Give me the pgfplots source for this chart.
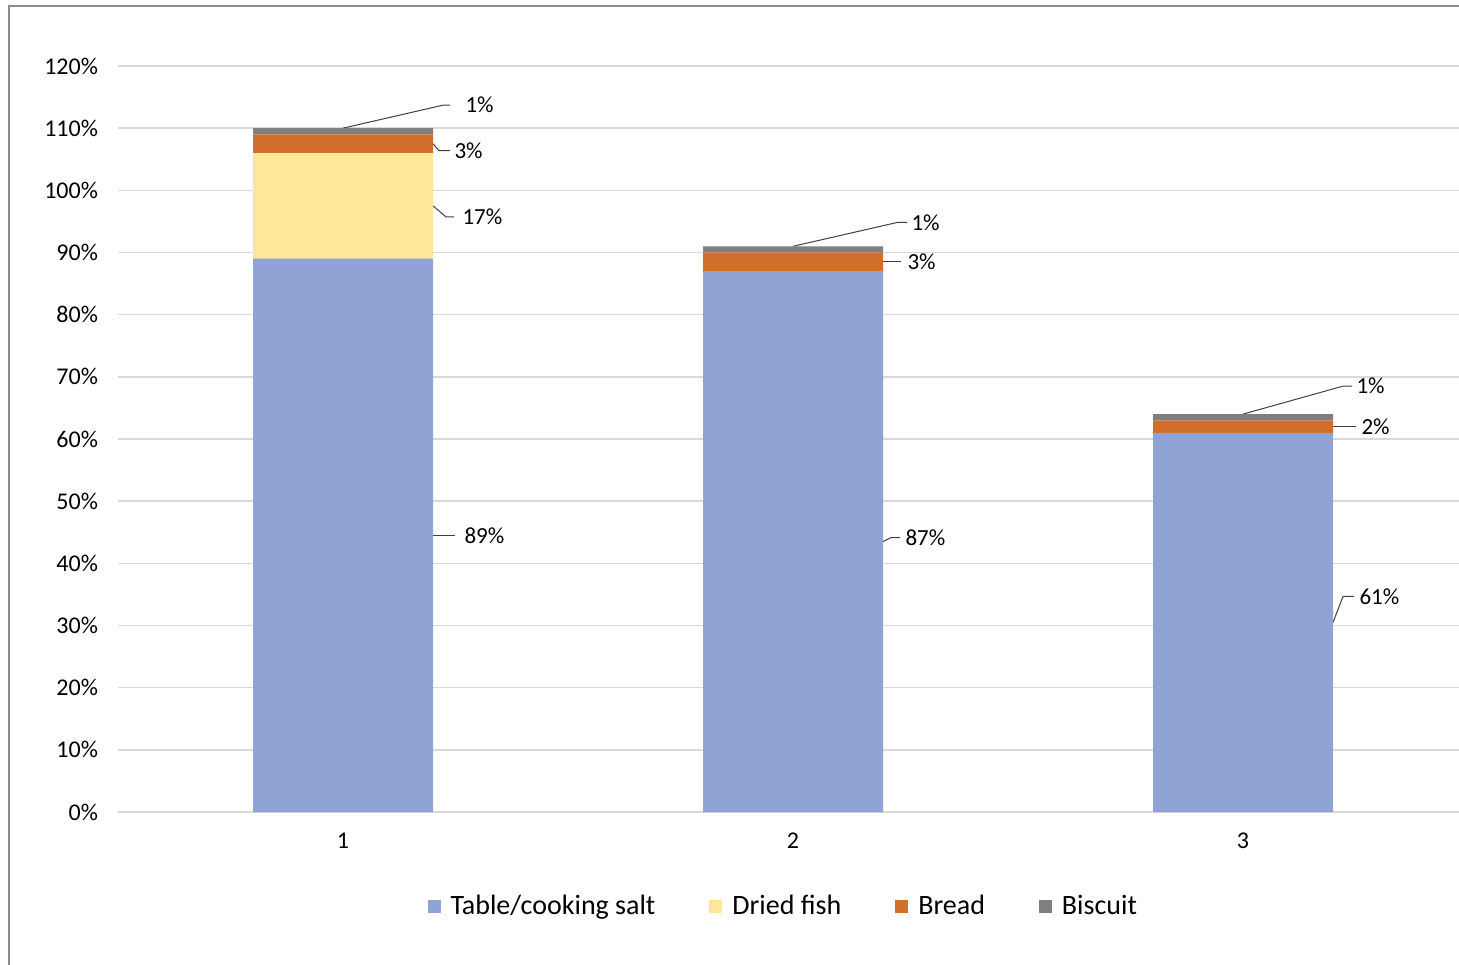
\documentclass[border=0pt]{standalone}
\usepackage{pgfplots}
\pgfplotsset{compat=1.18}
\usepackage{fontspec}
\setmainfont{Carlito}

\definecolor{salt}{HTML}{8FA3D4}
\definecolor{fish}{HTML}{FFE699}
\definecolor{bread}{HTML}{D36F2C}
\definecolor{biscuit}{HTML}{7F7F7F}
\definecolor{gridgray}{HTML}{D9D9D9}
\definecolor{framegray}{HTML}{8C8C8C}
\definecolor{leader}{HTML}{404040}

% share of respondents per group, one row per group
\pgfplotstableread{
x salt fish bread biscuit
1 89   17   3     1
2 87   0    3     1
3 61   0    2     1
}\foodsalt

% leader line with an elbow: start, elbow offset, horizontal run, gap, text
\newcommand{\callout}[6]{%
  \draw[leader, line width=0.5pt] (axis cs:#1) -- ++(#2) -- ++(#3,0pt)
    node[right, inner sep=0pt, xshift=#4, font=\fontsize{11.5}{13}\selectfont, text=black] {#5#6};}

\begin{document}
\begin{tikzpicture}
\useasboundingbox (0,0) rectangle (729.5pt,482pt);
\fill[white] (0,0) rectangle (729.5pt,482pt);
\draw[framegray, line width=0.8pt] (4.5pt,-2pt) -- (4.5pt,479pt) -- (740pt,479pt);

\begin{axis}[
  at={(59pt,76pt)}, anchor=south west,
  scale only axis, width=675pt, height=373pt,
  xmin=0.5, xmax=3.5, ymin=0, ymax=120,
  ybar stacked, bar width=90pt,
  axis line style={draw=none},
  major tick length=0pt,
  xtick={1,2,3}, ytick={0,10,...,120},
  ymajorgrids, grid style={gridgray, line width=0.8pt},
  /pgf/number format/assume math mode=true,
  yticklabel={\pgfmathprintnumber{\tick}\%},
  yticklabel style={font=\fontsize{12}{14}\selectfont, xshift=-6.5pt},
  xticklabel style={font=\fontsize{12}{14}\selectfont, yshift=-7pt},
  legend columns=4,
  legend style={draw=none, fill=none, at={(0.4935,-0.1265)}, anchor=center,
    font=\fontsize{14}{16}\selectfont,
    /tikz/every odd column/.style={column sep=3pt},
    /tikz/every even column/.style={column sep=25pt}},
  legend image code/.code={\fill[#1] (0pt,-3.25pt) rectangle (6.5pt,3.25pt);},
  clip=false,
]
\addplot[fill=salt, draw=none] table[x=x, y=salt] {\foodsalt};
\addplot[fill=fish, draw=none] table[x=x, y=fish] {\foodsalt};
\addplot[fill=bread, draw=none] table[x=x, y=bread] {\foodsalt};
\addplot[fill=biscuit, draw=none] table[x=x, y=biscuit] {\foodsalt};
\legend{Table/cooking salt, Dried fish, Bread, Biscuit}

% data callouts
\callout{1,110}{50pt,11.5pt}{3.5pt}{7.5pt}{1}{\%}
\callout{1.2,107.5}{3pt,-3.5pt}{5.5pt}{2pt}{3}{\%}
\callout{1.2,97.5}{6.5pt,-5.5pt}{4pt}{4pt}{17}{\%}
\callout{1.2,44.5}{0pt,0pt}{11pt}{4.5pt}{89}{\%}
\callout{2,91}{52.5pt,12pt}{4.5pt}{2pt}{1}{\%}
\callout{2.2,88.5}{0pt,0pt}{9pt}{3pt}{3}{\%}
\callout{2.2,43.5}{4pt,2pt}{4.5pt}{2.5pt}{87}{\%}
\callout{3,64}{50pt,14pt}{4.5pt}{2pt}{1}{\%}
\callout{3.2,62}{0pt,0pt}{11.5pt}{2.5pt}{2}{\%}
\callout{3.2,30.5}{5pt,13pt}{5.5pt}{2.5pt}{61}{\%}
\end{axis}
\end{tikzpicture}
\end{document}
